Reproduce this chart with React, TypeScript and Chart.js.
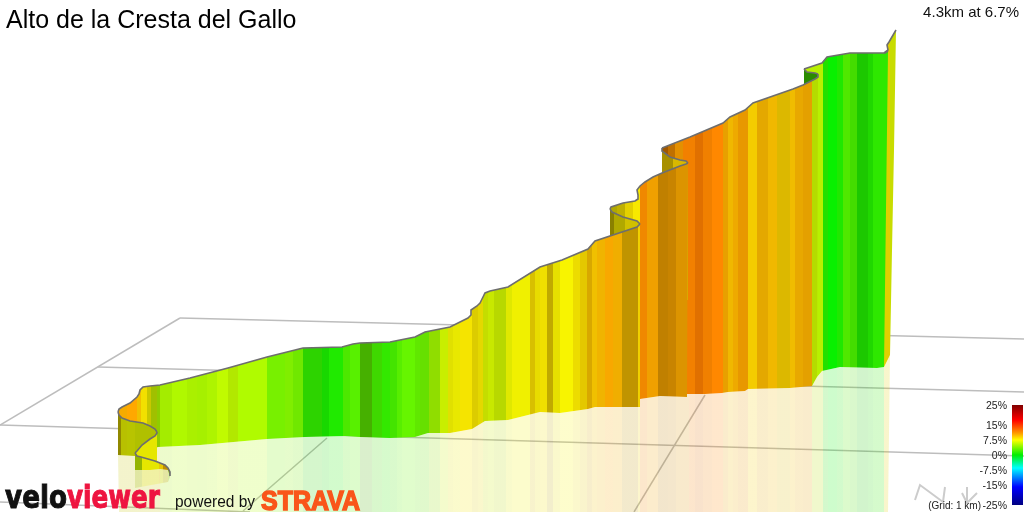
import { useEffect, useRef } from "react";
import Chart from "chart.js/auto";

const titleText = "Alto de la Cresta del Gallo";
const climbText = "4.3km at 6.7%";
const gridText = "(Grid: 1 km)";

// colour legend
const legendLabels = ["25%", "15%", "7.5%", "0%", "-7.5%", "-15%", "-25%"];
const legendLabelY = [405, 425, 440, 455, 470, 485, 505];
const legendStops = [0, 0.15, 0.28, 0.35, 0.5, 0.63, 0.82, 1];
const legendColours = ["#800000", "#ff0000", "#ff9900", "#ffff00", "#00ee00", "#00ffff", "#0000ff", "#000080"];
const legendBarX = [1012, 1023, 1023, 1012, 1012];
const legendBarY = [405, 405, 505, 505, 405];

// ground grid, one [x1, y1, x2, y2] per line
const gridLines = [
  [180, 318, 1024, 339],
  [98, 367, 1024, 392],
  [0, 425, 1024, 456],
  [0, 502, 250, 512],
  [0, 425, 180, 318],
  [327, 438, 243, 511],
  [705, 395, 634, 512],
];

// north marker
const northX = [915, 920, 943, 945];
const northY = [500, 485, 502, 487];
const arrowX = [967, 967, 962, 967, 977];
const arrowY = [487, 503, 493, 503, 493];

// the climb, in route order: start of the road is nearest to the viewer
const f1TopX = [135, 137, 141, 148, 155, 160, 165, 168, 170, 170];
const f1TopY = [453, 456, 457, 459, 461, 463, 465, 468, 472, 476];
const f1BotX = [135, 150, 160, 168, 170];
const f1BotY = [470, 470, 469, 470, 477];
const f1Edges = [135, 142, 159, 163, 168, 171];
const f1Colours = ["#94b400", "#e6e600", "#e8c800", "#c09000", "#88aa00"];

const f2TopX = [135, 137, 142, 150, 155, 157, 157];
const f2TopY = [453, 451, 445, 439, 436, 433, 432];
const f2BotX = [135, 157];
const f2BotY = [464, 464];
const f2Edges = [135, 158];
const f2Colours = ["#e6e600"];

const f3TopX = [118, 119, 122, 130, 143, 150, 155, 157];
const f3TopY = [412, 415, 418, 421, 423, 426, 429, 432];
const f3BotX = [118, 135, 157];
const f3BotY = [455, 456, 456];
const f3Edges = [118, 121, 127, 135, 158];
const f3Colours = ["#908800", "#b8c000", "#b8c400", "#b0c000"];

const m1TopX = [118, 119, 122, 130, 137, 139, 140, 143, 150, 160, 190, 228, 267, 303, 342, 353, 360, 390, 415, 425, 450, 468, 471, 471, 477, 480, 483, 485, 490, 508, 540, 562, 588, 595, 637, 640];
const m1TopY = [412, 409, 407, 403, 397, 394, 390, 387, 386, 385, 378, 368, 357, 348, 347, 344, 343, 342, 337, 332, 327, 318, 315, 310, 306, 303, 297, 293, 291, 287, 267, 260, 249, 241, 227, 224];
const m1BotX = [118, 135, 158, 200, 267, 305, 345, 360, 390, 415, 428, 450, 472, 485, 508, 540, 560, 588, 595, 640];
const m1BotY = [455, 455, 447, 445, 439, 437, 436, 437, 438, 437, 433, 433, 429, 421, 420, 412, 413, 409, 407, 407];
const m1Edges = [118, 127, 137, 141, 147, 151, 157, 160, 172, 187, 197, 207, 217, 228, 238, 267, 285, 293, 303, 322, 329, 343, 350, 360, 372, 382, 390, 397, 402, 415, 420, 429, 440, 448, 453, 460, 472, 478, 483, 488, 494, 506, 512, 530, 535, 540, 547, 553, 560, 573, 580, 587, 592, 597, 605, 613, 622, 638, 640];
const m1Colours = ["#f5ab00", "#ffa800", "#f0c000", "#f2e000", "#c8c800", "#a0c000", "#90cc00", "#a4ec00", "#b0f800", "#aaf000", "#a6f000", "#aef400", "#c0fb00", "#b2e800", "#b0fb00", "#78f000", "#80ee00", "#70e800", "#2dd300", "#18d800", "#20ea00", "#4ce800", "#58f000", "#46b000", "#3fd800", "#33e800", "#44e400", "#58ee00", "#66f500", "#60e800", "#66e000", "#90dd00", "#c8ee00", "#e0e000", "#e8e800", "#f5e400", "#dccc00", "#e4d800", "#c4dd00", "#c8e800", "#b8d800", "#e0e800", "#f0f000", "#d8c000", "#e8dc00", "#f0e000", "#c0aa00", "#e6e000", "#f8f400", "#ecdc00", "#e4c800", "#d8a800", "#f0c000", "#f0b400", "#f8a800", "#f0ae00", "#c09400", "#f0d000"];
// what the ground shows under the first bends
const startReflection = "#c4c400";

const f5TopX = [610, 612, 623, 637, 640];
const f5TopY = [209, 212, 217, 221, 224];
const f5BotX = [610, 640];
const f5BotY = [300, 300];
const f5Edges = [610, 614, 625, 640];
const f5Colours = ["#8a8000", "#b0a800", "#d0c000"];

const m2TopX = [610, 611, 623, 635, 638, 638, 637, 640, 645, 653, 662, 680, 686, 688];
const m2TopY = [209, 207, 203, 201, 199, 195, 190, 186, 182, 177, 173, 166, 164, 163];
const m2BotX = [610, 640, 660, 687, 688];
const m2BotY = [400, 399, 396, 397, 163];
const m2Edges = [610, 617, 625, 633, 640, 647, 658, 668, 676, 689];
const m2Colours = ["#b0a800", "#c0b000", "#e4d000", "#f8e800", "#f08800", "#f0a000", "#c08000", "#c88400", "#dc9400"];

const f7TopX = [662, 662, 670, 680, 686, 688];
const f7TopY = [148, 151, 157, 160, 161, 163];
const f7BotX = [662, 688];
const f7BotY = [300, 300];
const f7Edges = [662, 673, 689];
const f7Colours = ["#a89000", "#d8b800"];

const m3TopX = [662, 690, 723, 730, 745, 753, 793, 803, 815, 818, 818];
const m3TopY = [148, 137, 123, 117, 110, 103, 89, 85, 79, 77, 74];
const m3BotX = [662, 687, 687, 705, 722, 728, 745, 748, 790, 812, 817, 818];
const m3BotY = [395, 396, 394, 394, 393, 392, 391, 389, 388, 386, 377, 74];
const m3Edges = [662, 668, 675, 683, 695, 703, 712, 723, 728, 733, 738, 748, 757, 768, 777, 790, 795, 803, 812, 819];
const m3Colours = ["#a05800", "#c07000", "#e49000", "#f28000", "#e07000", "#f08000", "#ff8800", "#e8a000", "#f0b800", "#eeaa00", "#e89800", "#f4cc00", "#e4a800", "#f0b800", "#dcb800", "#f0bc00", "#e8a800", "#e4a000", "#b4dc00"];

const f9TopX = [804, 807, 815, 818];
const f9TopY = [69, 72, 73, 74];
const f9BotX = [804, 815];
const f9BotY = [120, 120];
const f9Edges = [804, 819];
const f9Colours = ["#2a8c00"];

const m4TopX = [804, 822, 827, 850, 885, 888];
const m4TopY = [69, 63, 57, 53, 53, 51];
const m4BotX = [804, 817, 822, 840, 877, 884];
const m4BotY = [380, 377, 371, 367, 368, 367];
const m4Edges = [804, 823, 828, 837, 843, 850, 857, 868, 873, 889];
const m4Colours = ["#b8f000", "#22e000", "#08f000", "#20e800", "#50e800", "#44dc00", "#1cc800", "#20d800", "#2ee800"];

const m5TopX = [884, 888, 887, 889, 896];
const m5TopY = [53, 50, 45, 42, 30];
const m5BotX = [884, 890, 892, 894, 896];
const m5BotY = [367, 355, 250, 150, 30];
const m5Edges = [884, 890, 897];
const m5Colours = ["#e0d000", "#c8dc00"];

const segments = [
  { topX: f1TopX, topY: f1TopY, botX: f1BotX, botY: f1BotY, edges: f1Edges, colours: f1Colours },
  { topX: f2TopX, topY: f2TopY, botX: f2BotX, botY: f2BotY, edges: f2Edges, colours: f2Colours },
  { topX: f3TopX, topY: f3TopY, botX: f3BotX, botY: f3BotY, edges: f3Edges, colours: f3Colours },
  { topX: m1TopX, topY: m1TopY, botX: m1BotX, botY: m1BotY, edges: m1Edges, colours: m1Colours },
  { topX: f5TopX, topY: f5TopY, botX: f5BotX, botY: f5BotY, edges: f5Edges, colours: f5Colours },
  { topX: m2TopX, topY: m2TopY, botX: m2BotX, botY: m2BotY, edges: m2Edges, colours: m2Colours },
  { topX: f7TopX, topY: f7TopY, botX: f7BotX, botY: f7BotY, edges: f7Edges, colours: f7Colours },
  { topX: m3TopX, topY: m3TopY, botX: m3BotX, botY: m3BotY, edges: m3Edges, colours: m3Colours },
  { topX: f9TopX, topY: f9TopY, botX: f9BotX, botY: f9BotY, edges: f9Edges, colours: f9Colours },
  { topX: m4TopX, topY: m4TopY, botX: m4BotX, botY: m4BotY, edges: m4Edges, colours: m4Colours },
  { topX: m5TopX, topY: m5TopY, botX: m5BotX, botY: m5BotY, edges: m5Edges, colours: m5Colours },
];

const toPoints = (xs: number[], ys: number[]) => xs.map((x, i) => ({ x, y: ys[i] }));

// hard-edged horizontal colour bands, through the x scale
function bandFill(edges: number[], colours: string[], alpha = "") {
  return (ctx: any) => {
    const { chart } = ctx;
    const scale = chart.scales.x;
    if (!chart.chartArea) return colours[0];
    const x0 = scale.getPixelForValue(edges[0]);
    const x1 = scale.getPixelForValue(edges[edges.length - 1]);
    const g = chart.ctx.createLinearGradient(x0, 0, x1, 0);
    const span = edges[edges.length - 1] - edges[0];
    colours.forEach((c, i) => {
      g.addColorStop((edges[i] - edges[0]) / span, c + alpha);
      g.addColorStop((edges[i + 1] - edges[0]) / span, c + alpha);
    });
    return g;
  };
}

function legendFill(ctx: any) {
  const { chart } = ctx;
  if (!chart.chartArea) return legendColours[0];
  const scale = chart.scales.y;
  const g = chart.ctx.createLinearGradient(0, scale.getPixelForValue(legendBarY[0]), 0, scale.getPixelForValue(legendBarY[2]));
  legendStops.forEach((s, i) => g.addColorStop(s, legendColours[i]));
  return g;
}

const shape = (points: any[], fill: any) => ({
  data: points,
  fill: "shape",
  backgroundColor: fill,
  borderWidth: 0,
  pointRadius: 0,
  tension: 0,
});

const stroke = (points: any[], colour: string, width: number) => ({
  data: points,
  fill: false,
  borderColor: colour,
  borderWidth: width,
  pointRadius: 0,
  tension: 0,
});

function buildDatasets() {
  // painter's order: far things first, reversed at the end because Chart.js draws index 0 last
  const out: any[] = [];
  gridLines.forEach((l) => out.push(stroke([{ x: l[0], y: l[1] }, { x: l[2], y: l[3] }], "#bdbdbd", 1.5)));
  out.push(stroke(toPoints(northX, northY), "#cccccc", 2));
  out.push(stroke(toPoints(arrowX, arrowY), "#cccccc", 2));

  // reflection on the ground under the long faces
  const floor = [
    ...toPoints(m1BotX, m1BotY),
    ...toPoints(m2BotX, m2BotY).filter((p) => p.x >= 640 && p.x < 688),
    ...toPoints(m3BotX, m3BotY).filter((p) => p.x >= 687 && p.x < 818 && !(p.x === 687 && p.y === 396)),
    ...toPoints(m4BotX, m4BotY).filter((p) => p.x > 817),
    ...toPoints(m5BotX, m5BotY).filter((p) => p.y > 300 && p.x > 884),
  ];
  const floorEdges = [...m1Edges, ...m2Edges.slice(5), ...m3Edges.slice(4, -1), 823, ...m4Edges.slice(2, -1), 884, 891];
  const floorColours = [
    ...m1Colours.map((c, i) => (i < 7 ? startReflection : c)),
    ...m2Colours.slice(4),
    ...m3Colours.slice(3),
    ...m4Colours.slice(1),
    m5Colours[0],
  ];
  out.push(shape([...floor, { x: 888, y: 512 }, { x: 119, y: 512 }, floor[0]], bandFill(floorEdges, floorColours, "33")));
  out.push(shape([...toPoints(f1BotX, f1BotY), { x: 168, y: 482 }, { x: 135, y: 488 }, { x: 135, y: 470 }], bandFill(f1Edges, f1Colours, "33")));

  [...segments].reverse().forEach((s) => {
    const top = toPoints(s.topX, s.topY);
    const bot = toPoints(s.botX, s.botY).reverse();
    out.push(shape([...top, ...bot, top[0]], bandFill(s.edges, s.colours)));
    out.push(stroke(top, "#6e6e6e", 1.6));
  });

  out.push(shape(toPoints(legendBarX, legendBarY), legendFill));
  return out.reverse();
}

function fitText(c: CanvasRenderingContext2D, text: string, x: number, y: number, width: number, font: string, colour: string, bold = 0) {
  c.save();
  c.font = font;
  c.fillStyle = colour;
  c.textAlign = "left";
  c.textBaseline = "alphabetic";
  const w = c.measureText(text).width;
  c.translate(x, y);
  c.scale(width / w, 1);
  c.fillText(text, 0, 0);
  if (bold) {
    c.strokeStyle = colour;
    c.lineWidth = bold;
    c.strokeText(text, 0, 0);
  }
  c.restore();
}

const textPlugin = {
  id: "texts",
  afterDraw(chart: any) {
    const c: CanvasRenderingContext2D = chart.ctx;
    c.save();
    c.textBaseline = "alphabetic";
    c.fillStyle = "#000";
    c.font = '25px "Liberation Sans"';
    c.textAlign = "left";
    c.fillText(titleText, 6, 28);
    c.font = '15px "Liberation Sans"';
    c.textAlign = "right";
    c.fillStyle = "#111";
    c.fillText(climbText, 1019, 17);
    c.font = '10.5px "Liberation Sans"';
    c.fillStyle = "#222";
    legendLabels.forEach((l, i) => c.fillText(l, 1007, legendLabelY[i] + 3.5));
    c.font = '10px "Liberation Sans"';
    c.fillText(gridText, 981, 508.5);
    c.restore();

    fitText(c, "velo", 5, 508, 62, 'bold 32px "DejaVu Sans"', "#111111", 1);
    fitText(c, "viewer", 67, 508, 93, 'bold 32px "DejaVu Sans"', "#ee1440", 1);
    fitText(c, "powered by", 175, 507, 80, '16px "Liberation Sans"', "#111111");
    fitText(c, "STRAVA", 261, 510, 99, 'bold 27px "Liberation Sans"', "#f9561a", 1.5);
  },
};

export default function App() {
  const canvasRef = useRef<HTMLCanvasElement | null>(null);

  useEffect(() => {
    document.body.style.margin = "0";
    const chart = new Chart(canvasRef.current as HTMLCanvasElement, {
      type: "line",
      data: { datasets: buildDatasets() },
      plugins: [textPlugin],
      options: {
        animation: false,
        responsive: false,
        parsing: { xAxisKey: "x", yAxisKey: "y" },
        layout: { padding: 0 },
        plugins: { legend: { display: false }, tooltip: { enabled: false }, title: { display: false } },
        scales: {
          x: { type: "linear", min: 0, max: 1024, display: false },
          y: { type: "linear", min: 0, max: 512, reverse: true, display: false },
        },
      },
    } as any);
    return () => chart.destroy();
  }, []);

  return <canvas ref={canvasRef} width={1024} height={512} style={{ display: "block" }} />;
}
